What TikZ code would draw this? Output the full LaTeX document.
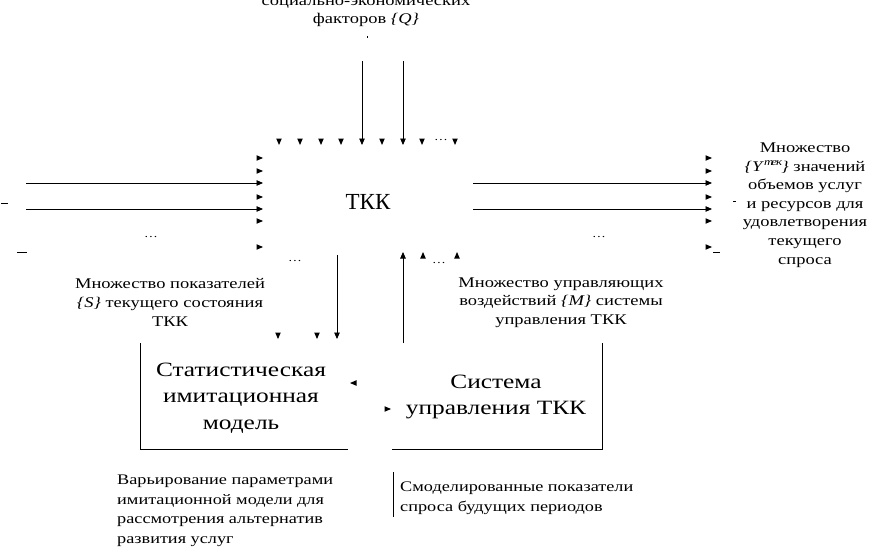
\documentclass[tikz,border=0pt]{standalone}
\usepackage{fontspec}
\setmainfont{Liberation Serif}[FakeStretch=1.25]
\newfontfamily\plainserif{Liberation Serif}
\usetikzlibrary{arrows.meta}
\begin{document}
\begin{tikzpicture}[x=1pt,y=-1pt,
  conn/.style={line width=0.9pt,-{Triangle[width=5.5pt,length=6.5pt]}},
  ln/.style={line width=0.9pt},
  lbl/.style={font=\fontsize{14.8}{18.6}\selectfont,align=center,inner sep=0pt},
  lbll/.style={font=\fontsize{14.6}{19.5}\selectfont,align=left,inner sep=0pt,anchor=west},
  boxlbl/.style={font=\fontsize{20.3}{26.5}\selectfont,align=center,inner sep=0pt},
  dotsl/.style={font=\fontsize{11}{12}\selectfont,inner sep=0pt},
  tipd/.pic={\fill (0,0) -- (-2.8,-6.5) -- (2.8,-6.5) -- cycle;},
  tipu/.pic={\fill (0,0) -- (-2.8,6.5) -- (2.8,6.5) -- cycle;},
  tipr/.pic={\fill (0,0) -- (-6.5,-2.8) -- (-6.5,2.8) -- cycle;},
  tipl/.pic={\fill (0,0) -- (6.5,-2.8) -- (6.5,2.8) -- cycle;}]
\useasboundingbox (0,0) rectangle (869,551);
\clip (0,0) rectangle (869,551);
\fill[white] (0,0) rectangle (869,551);

% texts
\node[lbl] (qtxt) at (366,12.5) {социально-экономических\\факторов \textit{\{Q\}}};
\node[font=\plainserif\fontsize{23}{26}\selectfont,inner sep=0pt] (tkk) at (368,202) {ТКК};
\node[lbl] (stxt) at (170,302.5) {Множество показателей\\\textit{\{S\}} текущего состояния\\ТКК};
\node[lbl] (mtxt) at (561,302.5) {Множество управляющих\\воздействий \textit{\{M\}} системы\\управления ТКК};
\node[lbl] (ytxt) at (805,205) {Множество\\\textit{\{Y}$^{\mathit{тек}}$\textit{\}} значений\\объемов услуг\\и ресурсов для\\удовлетворения\\текущего\\спроса};
\node[boxlbl] (simtxt) at (241,398) {Статистическая\\имитационная\\модель};
\node[boxlbl] (systxt) at (496,397) {Система\\управления ТКК};
\node[lbll] (vartxt) at (117,511) {Варьирование параметрами\\имитационной модели для\\рассмотрения альтернатив\\развития услуг};
\node[lbll] (modtxt) at (400,498) {Смоделированные показатели\\спроса будущих периодов};

% ellipses
\node[dotsl] (d1) at (441,140) {…};
\node[dotsl] (d2) at (151,237) {…};
\node[dotsl] (d3) at (295,261) {…};
\node[dotsl] (d4) at (439,263) {…};
\node[dotsl] (d5) at (599,237) {…};

% coordinates
\coordinate (q1s) at (362,61);  \coordinate (q1e) at (362,145);
\coordinate (q2s) at (403,61);  \coordinate (q2e) at (403,145);
\coordinate (l1s) at (26,183);  \coordinate (l1e) at (263,183);
\coordinate (l2s) at (26,209);  \coordinate (l2e) at (263,209);
\coordinate (r1s) at (473,183); \coordinate (r1e) at (712,183);
\coordinate (r2s) at (473,209); \coordinate (r2e) at (712,209);
\coordinate (sds) at (337,255); \coordinate (sde) at (337,339);
\coordinate (mus) at (403,343); \coordinate (mue) at (403,252);

% connectors
\draw[conn] (q1s) -- (q1e);
\draw[conn] (q2s) -- (q2e);
\draw[conn] (l1s) -- (l1e);
\draw[conn] (l2s) -- (l2e);
\draw[conn] (r1s) -- (r1e);
\draw[conn] (r2s) -- (r2e);
\draw[conn] (sds) -- (sde);
\draw[conn] (mus) -- (mue);

% loose arrowheads: top row
\foreach \x in {279,300,321,341,382,422,455} \pic at (\x,145) {tipd};
% left column
\foreach \y in {158,171,197,221,247} \pic at (263,\y) {tipr};
% right column
\foreach \y in {158,171,197,221,247} \pic at (712,\y) {tipr};
% above model
\foreach \x in {278,317} \pic at (\x,339) {tipd};
% below TKK, up
\foreach \x in {423,457} \pic at (\x,252) {tipu};
% between boxes
\pic at (350,383) {tipl};
\pic at (391,409) {tipr};

% boxes (open)
\coordinate (b1a) at (140,343); \coordinate (b1b) at (140,449); \coordinate (b1c) at (348,449);
\coordinate (b2a) at (392,449); \coordinate (b2b) at (602,449); \coordinate (b2c) at (602,343);
\draw[ln] (b1a) -- (b1b) -- (b1c);
\draw[ln] (b2a) -- (b2b) -- (b2c);

% bottom separator
\coordinate (sepa) at (393,472); \coordinate (sepb) at (393,517);
\draw[ln] (sepa) -- (sepb);

% stray marks
\coordinate (m1a) at (1,203); \coordinate (m1b) at (8,203);
\coordinate (m2a) at (17,252); \coordinate (m2b) at (27,252);
\coordinate (m3a) at (713,252); \coordinate (m3b) at (720,252);
\coordinate (m4a) at (733,201); \coordinate (m4b) at (736,201);
\coordinate (m5a) at (367,36); \coordinate (m5b) at (367,38);
\draw[ln] (m1a) -- (m1b);
\draw[ln] (m2a) -- (m2b);
\draw[ln] (m3a) -- (m3b);
\draw[ln] (m4a) -- (m4b);
\draw[ln] (m5a) -- (m5b);
\end{tikzpicture}
\end{document}
